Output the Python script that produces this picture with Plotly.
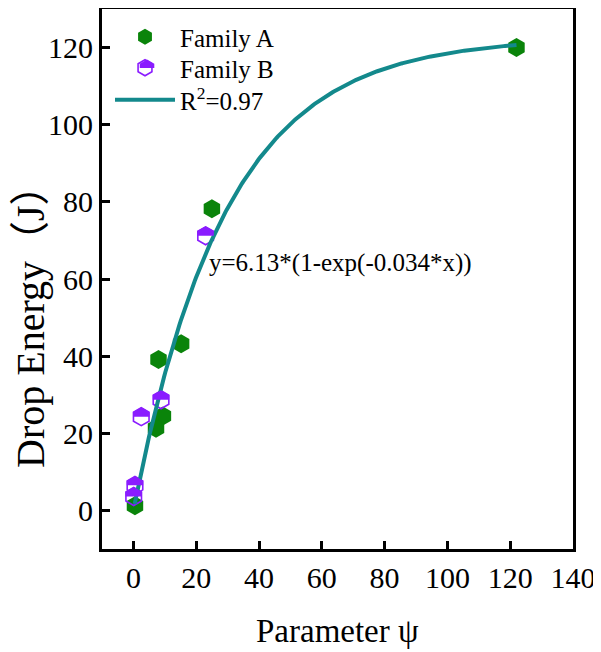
import numpy as np
import plotly.graph_objects as go

# ---- data ----
family_a_x = [122, 25, 15.2, 8.0, 9.4, 7.2, 0.5]
family_a_y = [120, 78.2, 43.2, 39.1, 24.5, 21.3, 1.2]

family_b_x = [23.0, 8.8, 2.5, 0.5, 0.1]
family_b_y = [71.2, 28.7, 24.3, 6.5, 3.6]

# fitted model shown on the chart
fit_amp = 122.6
fit_rate = 0.034
fit_x_start = 0.4
fit_x_end = 122
fit_label = "R<sup>2</sup>=0.97"
equation_text = "y=6.13*(1-exp(-0.034*x))"
equation_pos = (23.4, 64.2)

x_ticks = [0, 20, 40, 60, 80, 100, 120, 140]
y_ticks = [0, 20, 40, 60, 80, 100, 120]
x_title = "Parameter ψ"
y_title = "Drop Energy（J）"

# ---- styles ----
GREEN = "#0a840a"
PURPLE = "#8a1cff"
TEAL = "#13898c"
FONT = "Liberation Serif, Noto Sans CJK SC"
MSIZE = 19
MSIZE_B = 18

# plot area (in page pixels, the page body has an 8 px margin)
PLOT_W = 470.6
PLOT_H = 540.0
PLOT_L = 102.0
PLOT_T = 9.0

fit_x = np.linspace(fit_x_start, fit_x_end, 300)
fit_y = fit_amp * (1 - np.exp(-fit_rate * fit_x))

fig = go.Figure()
fig.add_trace(go.Scatter(
    x=family_a_x, y=family_a_y, mode="markers", name="Family A", legend="legend",
    marker=dict(symbol="hexagon", size=MSIZE, color=GREEN, line=dict(width=0)),
))
fig.add_trace(go.Scatter(
    x=family_b_x, y=family_b_y, mode="markers", name="Family B", legend="legend2",
    marker=dict(symbol="hexagon", size=MSIZE_B, color="rgba(255,255,255,0)",
                line=dict(width=1.6, color=PURPLE)),
))
fig.add_trace(go.Scatter(
    x=fit_x, y=fit_y, mode="lines", name=fit_label, legend="legend3",
    line=dict(color=TEAL, width=4),
))


def half_hex_path(size):
    r = size / 2.0
    y1 = r * 1.05
    y2 = r / 2 * 1.05
    x1 = r * np.sqrt(3) / 2 * 1.05
    return f"M{-x1:.2f},0 V{y2:.2f} L0,{y1:.2f} L{x1:.2f},{y2:.2f} V0 Z"


def px_x(p):
    return (p - PLOT_L) / PLOT_W


def px_y(p):
    return 1 - (p - PLOT_T) / PLOT_H


shapes = []
for bx, by in zip(family_b_x, family_b_y):
    shapes.append(dict(
        type="path", xref="x", yref="y", xsizemode="pixel", ysizemode="pixel",
        xanchor=bx, yanchor=by, path=half_hex_path(MSIZE_B),
        fillcolor=PURPLE, line=dict(width=0), layer="above",
    ))
# half fill for the legend symbol of Family B
shapes.append(dict(
    type="path", xref="paper", yref="paper", xsizemode="pixel", ysizemode="pixel",
    xanchor=0.0956, yanchor=0.8907, path=half_hex_path(16),
    fillcolor=PURPLE, line=dict(width=0), layer="above",
))

leg_common = dict(
    x=0.017, xanchor="left", yanchor="middle",
    bgcolor="rgba(0,0,0,0)", borderwidth=0,
    font=dict(family=FONT, size=25), itemwidth=60,
)

fig.update_layout(
    width=593, height=644,
    margin=dict(l=94, r=28.4, t=1, b=103.4),
    paper_bgcolor="white", plot_bgcolor="white",
    font=dict(family=FONT, color="black", size=26),
    showlegend=True,
    legend=dict(y=px_y(37), **leg_common),
    legend2=dict(y=px_y(68), **leg_common),
    legend3=dict(y=px_y(100), **leg_common),
    shapes=shapes,
    annotations=[
        dict(
            x=equation_pos[0], y=equation_pos[1], xref="x", yref="y",
            text=equation_text, showarrow=False, xanchor="left", yanchor="middle",
            font=dict(family=FONT, size=25, color="black"),
        ),
        dict(
            x=px_x(30), y=px_y(316), xref="paper", yref="paper",
            text=y_title, textangle=-90, showarrow=False,
            xanchor="center", yanchor="middle",
            font=dict(family=FONT, size=40, color="black"),
        ),
        dict(
            x=0.5, y=px_y(631), xref="paper", yref="paper",
            text=x_title, showarrow=False, xanchor="center", yanchor="middle",
            font=dict(family=FONT, size=33, color="black"),
        ),
    ],
)

fig.update_xaxes(
    range=[-10, 140], tickvals=x_ticks, ticktext=[str(v) for v in x_ticks],
    showgrid=False, zeroline=False, showline=True, linecolor="black", linewidth=3,
    mirror=True, ticks="inside", ticklen=8, tickwidth=3, tickcolor="black",
    tickfont=dict(family=FONT, size=30), automargin=False,
)
fig.update_yaxes(
    range=[-10, 130], tickvals=y_ticks, ticktext=[str(v) for v in y_ticks],
    showgrid=False, zeroline=False, showline=True, linecolor="black", linewidth=3,
    mirror=True, ticks="inside", ticklen=8, tickwidth=3, tickcolor="black",
    tickfont=dict(family=FONT, size=30), automargin=False,
)

fig.write_html("out.html")
